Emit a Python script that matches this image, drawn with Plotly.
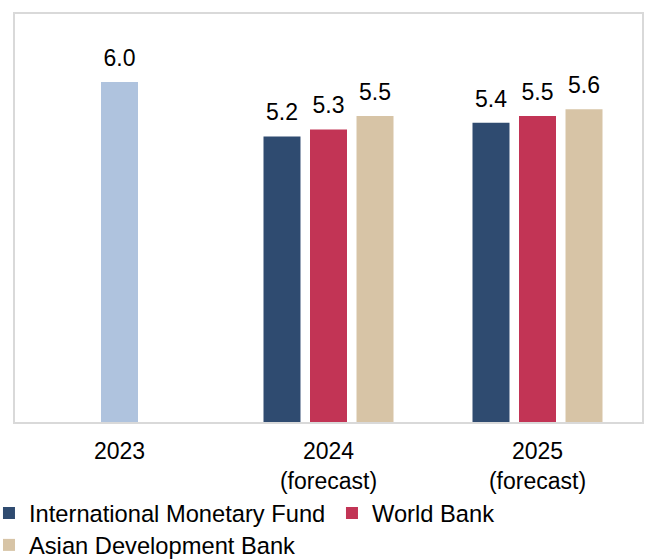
import plotly.graph_objects as go

# Real GDP growth (%) by source
categories = ["2023", "2024<br>(forecast)", "2025<br>(forecast)"]
actual_2023 = [6.0]
imf = [5.2, 5.4]
world_bank = [5.3, 5.5]
adb = [5.5, 5.6]

series_names = ["International Monetary Fund", "World Bank", "Asian Development Bank"]
series_colors = ["#2F4B70", "#C23455", "#D7C4A6"]
series_legends = ["legend", "legend", "legend2"]
actual_color = "#AFC3DE"

BAR_W = 0.177
STEP = 0.2225
FONT = "Liberation Sans, Arial, sans-serif"
FS = 23
LEGEND_FS = 23.7

fig = go.Figure()

cat_idx = list(range(len(categories)))

# 2023 single bar, centred on its category
fig.add_trace(go.Bar(
    x=[cat_idx[0]], y=actual_2023, width=BAR_W, offset=-BAR_W / 2,
    marker=dict(color=actual_color, line=dict(width=0)),
    showlegend=False, hoverinfo="skip",
))

label_x, label_y = [cat_idx[0]], list(actual_2023)

forecast_idx = cat_idx[1:]
for k, (name, vals, col, lg) in enumerate(
        zip(series_names, [imf, world_bank, adb], series_colors, series_legends)):
    shift = (k - 1) * STEP
    fig.add_trace(go.Bar(
        x=forecast_idx, y=vals, width=BAR_W, offset=shift - BAR_W / 2,
        name=name, marker=dict(color=col, line=dict(width=0)),
        hoverinfo="skip", legend=lg,
        legendwidth=298 if k == 0 else None,
    ))
    label_x += [i + shift for i in forecast_idx]
    label_y += list(vals)

# Value labels above the bars
fig.add_trace(go.Scatter(
    x=label_x, y=label_y, mode="markers+text",
    text=[f"{v:.1f}" for v in label_y], textposition="top center",
    textfont=dict(size=FS, color="#000000", family=FONT),
    marker=dict(size=15, opacity=0),
    showlegend=False, hoverinfo="skip", cliponaxis=False,
))

legend_style = dict(
    orientation="h", xanchor="left", yanchor="top",
    font=dict(size=LEGEND_FS, color="#000000", family=FONT), traceorder="normal",
    bgcolor="rgba(0,0,0,0)",
)

fig.update_layout(
    width=645, height=559,
    margin=dict(l=15, r=3, t=14, b=137, autoexpand=False),
    paper_bgcolor="white", plot_bgcolor="white",
    barmode="overlay",
    font=dict(family=FONT, size=FS, color="#000000"),
    showlegend=True,
    legend=dict(x=-0.0415, y=-0.1695, **legend_style),
    legend2=dict(x=-0.0415, y=-0.2475, **legend_style),
    xaxis=dict(
        range=[-0.5, 2.5], tickmode="array", tickvals=cat_idx, ticktext=categories,
        showgrid=False, zeroline=False, showline=True, mirror=True,
        linecolor="#D9D9D9", linewidth=2, ticks="", ticklabelstandoff=7,
        tickfont=dict(size=FS, color="#000000"),
    ),
    yaxis=dict(
        range=[1, 7], showticklabels=False, showgrid=False, zeroline=False,
        showline=True, mirror=True, linecolor="#D9D9D9", linewidth=2, ticks="",
    ),
)

fig.write_html("out.html")
